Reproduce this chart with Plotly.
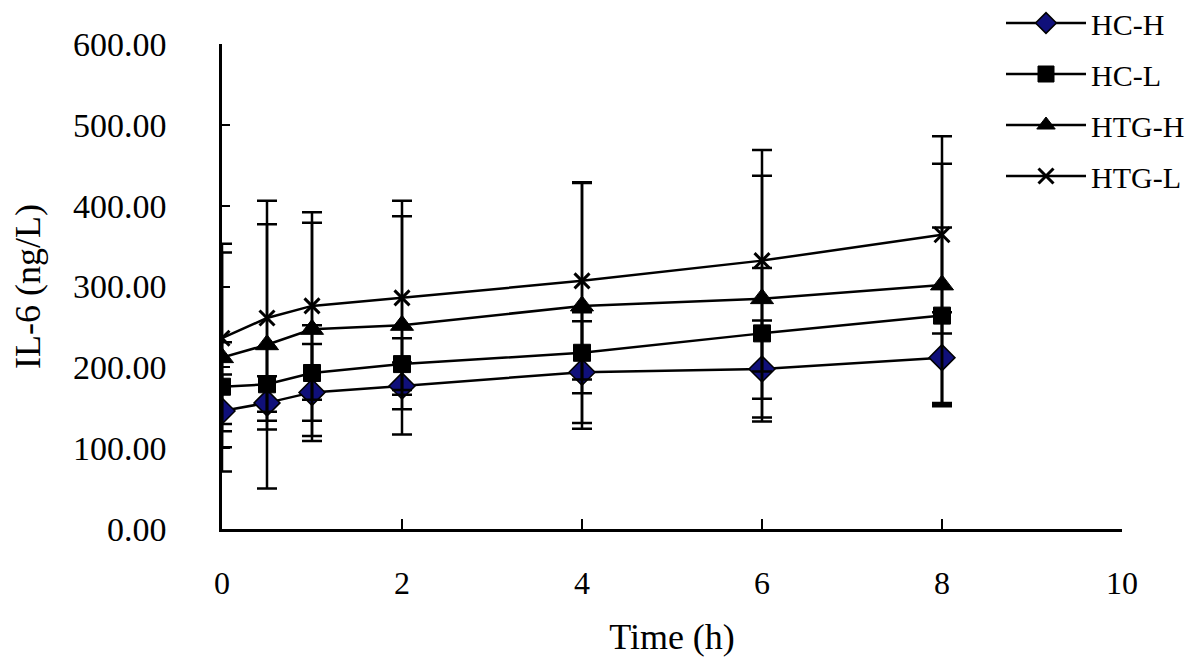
import plotly.graph_objects as go

time_h = [0, 0.5, 1, 2, 4, 6, 8]

series_names = ["HC-H", "HC-L", "HTG-H", "HTG-L"]
hc_h_mean = [146, 156, 169, 177, 194, 198, 212]
hc_h_err = [45, 33, 60, 29, 63, 60, 56]
hc_l_mean = [176, 179, 193, 204, 218, 242, 264]
hc_l_err = [55, 45, 59, 32, 50, 81, 109]
htg_h_mean = [212, 228, 247, 252, 276, 285, 302]
htg_h_err = [141, 178, 132, 135, 152, 152, 150]
htg_l_mean = [236, 261, 276, 286, 307, 332, 364]
htg_l_err = [106, 116, 116, 120, 122, 137, 122]

x_ticks = [0, 2, 4, 6, 8, 10]
y_ticks = [0, 100, 200, 300, 400, 500, 600]

FONT = "Liberation Serif"
W, H = 1200, 666

styles = [
    dict(symbol="diamond", size=20, color="#10107a", line=dict(color="black", width=1.5)),
    dict(symbol="square", size=17, color="black", line=dict(color="black", width=1)),
    dict(symbol="triangle-up", size=20, color="black", line=dict(color="black", width=1)),
    dict(symbol="x-thin", size=15, color="black", line=dict(color="black", width=3)),
]
means = [hc_h_mean, hc_l_mean, htg_h_mean, htg_l_mean]
errs = [hc_h_err, hc_l_err, htg_h_err, htg_l_err]

fig = go.Figure()
for name, m, e, st in zip(series_names, means, errs, styles):
    fig.add_trace(go.Scatter(
        x=time_h, y=m, name=name, mode="lines+markers", legendgroup=name,
        line=dict(color="black", width=2.5),
        marker=st,
        error_y=dict(type="data", array=e, visible=True, color="black",
                     thickness=2.5, width=10),
    ))

# page body has an 8px offset; plot-area pixel targets are compensated
OFF = 8
x0, x1 = 222 - OFF, 1122 - OFF
y_top, y_bot = 44 - OFF, 529 - OFF

fig.update_layout(
    width=W, height=H,
    margin=dict(l=0, r=0, t=0, b=0, autoexpand=False),
    paper_bgcolor="white", plot_bgcolor="white",
    font=dict(family=FONT, color="black", size=30),
    showlegend=True,
    legend=dict(x=993 / W, y=1 + 11 / H, xanchor="left", yanchor="top",
                font=dict(family=FONT, size=30), itemwidth=80,
                tracegroupgap=9, bgcolor="rgba(0,0,0,0)"),
    xaxis=dict(domain=[x0 / W, x1 / W], range=[0, 10], tickvals=x_ticks,
               ticks="inside", ticklen=10, tickwidth=2, tickcolor="black",
               showline=True, linewidth=2.5, linecolor="black", showgrid=False,
               zeroline=False, automargin=False, ticklabelstandoff=24,
               tickfont=dict(size=32),
               title=dict(text="Time (h)", font=dict(size=36), standoff=24)),
    yaxis=dict(domain=[(H - y_bot) / H, (H - y_top) / H], range=[0, 600],
               tickvals=y_ticks, tickformat=".2f", ticks="inside", ticklen=8,
               tickwidth=2, tickcolor="black", showline=True, linewidth=2.5,
               linecolor="black", showgrid=False, zeroline=False,
               automargin=False, ticklabelstandoff=46, tickfont=dict(size=34),
               title=dict(text="IL-6 (ng/L)", font=dict(size=36), standoff=30)),
)

fig.write_html("out.html")
